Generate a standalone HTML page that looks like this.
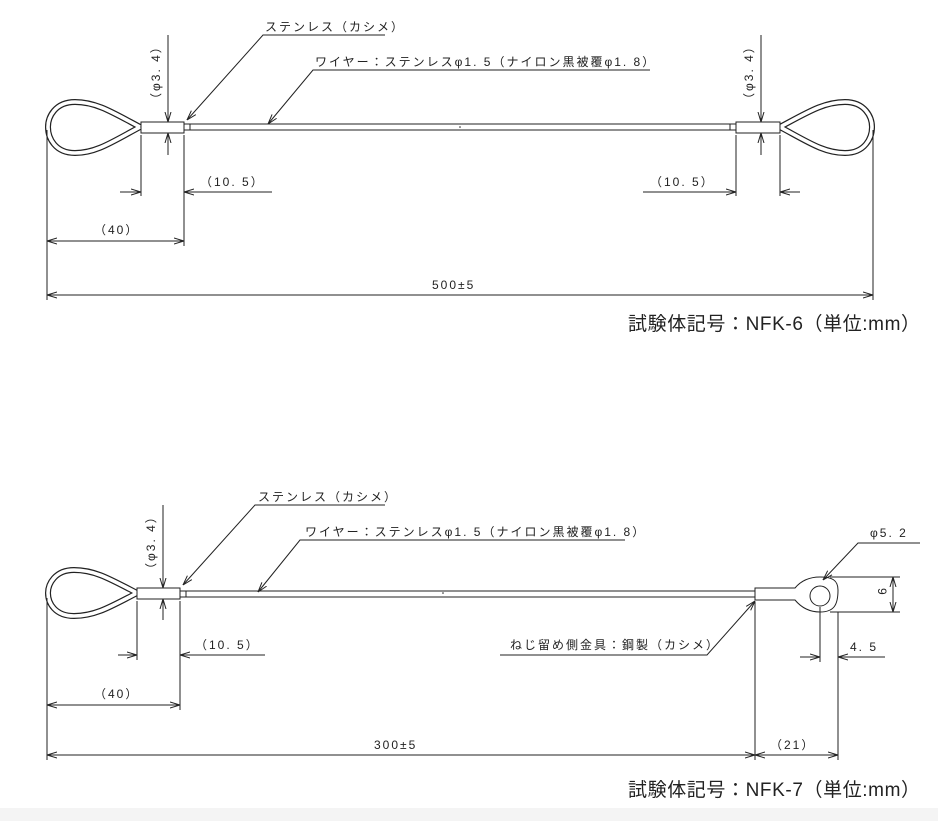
<!DOCTYPE html>
<html><head><meta charset="utf-8"><style>
html,body{margin:0;padding:0;background:#fff;}
svg{display:block}
text{font-family:"Liberation Sans","Noto Sans CJK JP",sans-serif;fill:#222;}
.s{font-size:12px;letter-spacing:2px}
.t{font-size:19px;letter-spacing:0.6px}
</style></head><body>
<svg width="938" height="821" viewBox="0 0 938 821" xmlns="http://www.w3.org/2000/svg">
<defs>
<marker id="a" viewBox="0 0 10 10" refX="10" refY="5" markerWidth="10" markerHeight="10" markerUnits="userSpaceOnUse" orient="auto-start-reverse">
<path d="M0,2 L10,5 L0,8" fill="none" stroke="#222" stroke-width="1"/></marker>
</defs>
<rect x="0" y="808" width="938" height="13" fill="#f4f4f4"/>
<g stroke="#222" stroke-width="1" fill="none">
<!-- TOP -->
<path d="M140,127 C112,112 96,102 75,102 C55,102 48,117 48,127 C48,138 55,153 75,153 C96,153 112,142 140,127" stroke-width="6"/>
<path d="M140,127 C112,112 96,102 75,102 C55,102 48,117 48,127 C48,138 55,153 75,153 C96,153 112,142 140,127" stroke="#fff" stroke-width="3.6"/>
<path d="M780,127 C808,112 824,102 845,102 C865,102 872,117 872,127 C872,138 865,153 845,153 C824,153 808,142 780,127" stroke-width="6"/>
<path d="M780,127 C808,112 824,102 845,102 C865,102 872,117 872,127 C872,138 865,153 845,153 C824,153 808,142 780,127" stroke="#fff" stroke-width="3.6"/>
<rect x="141" y="122" width="43" height="11" fill="#fff"/>
<rect x="736" y="122" width="44" height="11" fill="#fff"/>
<rect x="184" y="124" width="552" height="6" fill="#fff"/>
<line x1="190" y1="124" x2="190" y2="130"/><line x1="730" y1="124" x2="730" y2="130"/>
<line x1="168" y1="35" x2="168" y2="122" marker-end="url(#a)"/>
<line x1="168" y1="155" x2="168" y2="133" marker-end="url(#a)"/>
<line x1="761" y1="35" x2="761" y2="122" marker-end="url(#a)"/>
<line x1="761" y1="155" x2="761" y2="133" marker-end="url(#a)"/>
<line x1="141" y1="135" x2="141" y2="196"/><line x1="184" y1="135" x2="184" y2="246"/>
<line x1="120" y1="192" x2="141" y2="192" marker-end="url(#a)"/>
<line x1="272" y1="192" x2="184" y2="192" marker-end="url(#a)"/>
<line x1="736" y1="135" x2="736" y2="196"/><line x1="780" y1="135" x2="780" y2="196"/>
<line x1="643" y1="192" x2="736" y2="192" marker-end="url(#a)"/>
<line x1="800" y1="192" x2="780" y2="192" marker-end="url(#a)"/>
<line x1="47" y1="130" x2="47" y2="300"/><line x1="873" y1="130" x2="873" y2="300"/>
<line x1="47" y1="241" x2="184" y2="241" marker-start="url(#a)" marker-end="url(#a)"/>
<line x1="47" y1="295" x2="873" y2="295" marker-start="url(#a)" marker-end="url(#a)"/>
<polyline points="385,35 263,35 187,120" marker-end="url(#a)"/>
<polyline points="650,70 313,70 268,124" marker-end="url(#a)"/>

<!-- BOTTOM -->
<path d="M137,593 C110,579 95,570 74,570 C55,570 48,584 48,593 C48,603 55,616 74,616 C95,616 110,607 137,593" stroke-width="6"/>
<path d="M137,593 C110,579 95,570 74,570 C55,570 48,584 48,593 C48,603 55,616 74,616 C95,616 110,607 137,593" stroke="#fff" stroke-width="3.6"/>
<rect x="137" y="588" width="43" height="11" fill="#fff"/>
<rect x="180" y="591" width="575" height="6" fill="#fff"/>
<line x1="186" y1="591" x2="186" y2="597"/>
<path d="M755,588 L795,588 C800,582 808,577 820,577 C832,577 838,580 838,590 C838,605 834,612 820,612 C808,612 800,606 795,600 L755,600 Z" fill="#fff"/>
<circle cx="820" cy="596" r="10"/>
<line x1="163" y1="505" x2="163" y2="588" marker-end="url(#a)"/>
<line x1="163" y1="620" x2="163" y2="599" marker-end="url(#a)"/>
<line x1="137" y1="601" x2="137" y2="660"/><line x1="180" y1="601" x2="180" y2="710"/>
<line x1="118" y1="655" x2="137" y2="655" marker-end="url(#a)"/>
<line x1="265" y1="655" x2="180" y2="655" marker-end="url(#a)"/>
<line x1="47" y1="598" x2="47" y2="760"/>
<line x1="47" y1="705" x2="180" y2="705" marker-start="url(#a)" marker-end="url(#a)"/>
<line x1="755" y1="602" x2="755" y2="760"/><line x1="838" y1="612" x2="838" y2="760"/>
<line x1="47" y1="755" x2="755" y2="755" marker-start="url(#a)" marker-end="url(#a)"/>
<line x1="755" y1="755" x2="838" y2="755" marker-start="url(#a)" marker-end="url(#a)"/>
<line x1="820" y1="607" x2="820" y2="662"/>
<line x1="800" y1="657" x2="820" y2="657" marker-end="url(#a)"/>
<line x1="885" y1="657" x2="838" y2="657" marker-end="url(#a)"/>
<line x1="830" y1="577" x2="900" y2="577"/><line x1="830" y1="612" x2="900" y2="612"/>
<line x1="893" y1="577" x2="893" y2="612" marker-start="url(#a)" marker-end="url(#a)"/>
<polyline points="385,505 255,505 183,585" marker-end="url(#a)"/>
<polyline points="625,540 300,540 258,592" marker-end="url(#a)"/>
<polyline points="920,543 858,543 823,580" marker-end="url(#a)"/>
<polyline points="500,655 707,655 755,601" marker-end="url(#a)"/>
</g>
<circle cx="460" cy="127" r="0.8" fill="#222"/>
<circle cx="443" cy="593" r="0.8" fill="#222"/>
<text class="s" x="265" y="31">ステンレス（カシメ）</text>
<text class="s" x="315" y="66">ワイヤー：ステンレスφ1. 5（ナイロン黒被覆φ1. 8）</text>
<text class="s" transform="translate(160,105) rotate(-90)">（φ3. 4）</text>
<text class="s" transform="translate(753,105) rotate(-90)">（φ3. 4）</text>
<text class="s" x="200" y="186">（10. 5）</text>
<text class="s" x="650" y="186">（10. 5）</text>
<text class="s" x="94" y="234">（40）</text>
<text class="s" x="432" y="289">500±5</text>
<text class="t" x="628" y="330">試験体記号：NFK-6（単位:mm）</text>
<text class="s" x="258" y="501">ステンレス（カシメ）</text>
<text class="s" x="305" y="536">ワイヤー：ステンレスφ1. 5（ナイロン黒被覆φ1. 8）</text>
<text class="s" transform="translate(155,575) rotate(-90)">（φ3. 4）</text>
<text class="s" x="195" y="649">（10. 5）</text>
<text class="s" x="94" y="698">（40）</text>
<text class="s" x="374" y="749">300±5</text>
<text class="s" x="770" y="749">（21）</text>
<text class="s" x="510" y="649">ねじ留め側金具：鋼製（カシメ）</text>
<text class="s" x="870" y="537">φ5. 2</text>
<text class="s" x="850" y="651">4. 5</text>
<text class="s" transform="translate(878,588) rotate(90)">9</text>
<text class="t" x="628" y="796">試験体記号：NFK-7（単位:mm）</text>
</svg>
</body></html>
